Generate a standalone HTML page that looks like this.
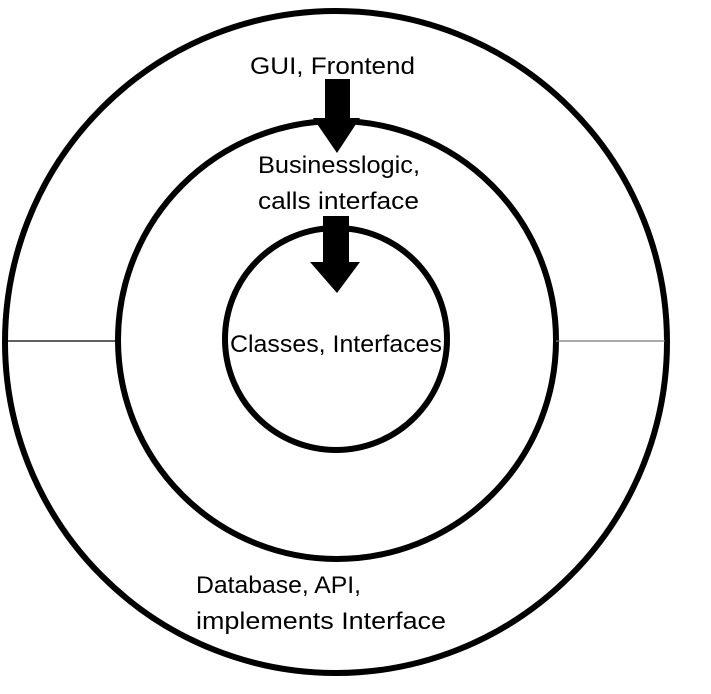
<!DOCTYPE html>
<html><head><meta charset="utf-8"><style>
html,body{margin:0;padding:0;background:#fff;}
svg{display:block;}
text{font-family:"Liberation Sans",sans-serif;font-size:24px;fill:#000;}
</style></head><body>
<svg width="711" height="694" viewBox="0 0 711 694">
<rect width="711" height="694" fill="#fff"/>
<circle cx="336" cy="342" r="331" fill="none" stroke="#000" stroke-width="6"/>
<circle cx="337" cy="340" r="219" fill="none" stroke="#000" stroke-width="6"/>
<circle cx="336" cy="339" r="111" fill="none" stroke="#000" stroke-width="6"/>
<line x1="8" y1="341" x2="118" y2="341" stroke="#000" stroke-width="1.3"/>
<line x1="556" y1="341" x2="665" y2="341" stroke="#777" stroke-width="1.3"/>
<polygon points="325,79 350,79 350,118 360,118 337,153 313,118 325,118" fill="#000"/>
<polygon points="323,216 349,216 349,262 360,262 337,293 310,262 323,262" fill="#000"/>
<text x="250" y="74" textLength="165" lengthAdjust="spacingAndGlyphs">GUI, Frontend</text>
<text x="258" y="173" textLength="162" lengthAdjust="spacingAndGlyphs">Businesslogic,</text>
<text x="258" y="209" textLength="161" lengthAdjust="spacingAndGlyphs">calls interface</text>
<text x="230" y="352" textLength="212" lengthAdjust="spacingAndGlyphs">Classes, Interfaces</text>
<text x="196" y="593" textLength="165" lengthAdjust="spacingAndGlyphs">Database, API,</text>
<text x="196" y="629" textLength="250" lengthAdjust="spacingAndGlyphs">implements Interface</text>
</svg>
</body></html>
